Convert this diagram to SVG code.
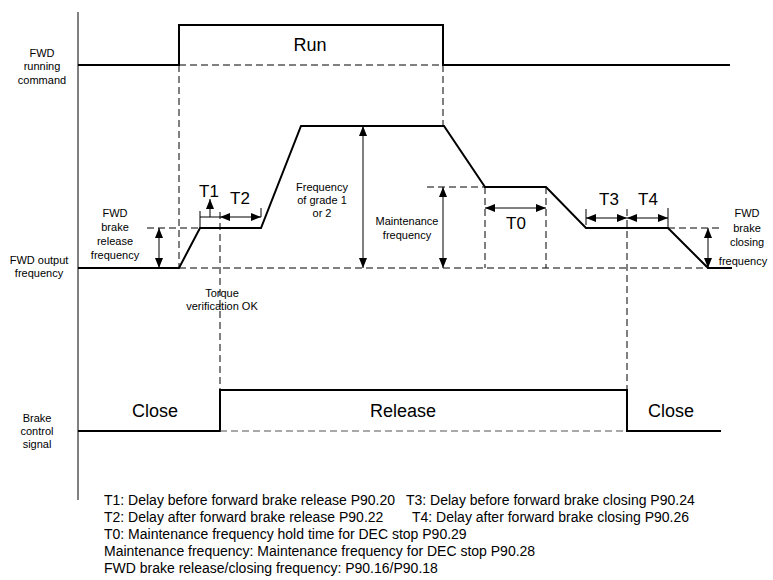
<svg xmlns="http://www.w3.org/2000/svg" width="773" height="580" viewBox="0 0 773 580">
<defs>
<marker id="ah" viewBox="0 0 10 8" refX="10" refY="4" markerWidth="10" markerHeight="8" markerUnits="userSpaceOnUse" orient="auto-start-reverse">
<path d="M0,0 L10,4 L0,8 Z" fill="#000"/>
</marker>
<style>
.sig{fill:none;stroke:#000;stroke-width:2}
.ax{fill:none;stroke:#000;stroke-width:1}
.dash{fill:none;stroke:#000;stroke-width:1;stroke-dasharray:7,4}
.gdash{fill:none;stroke:#555;stroke-width:1.2;stroke-dasharray:7,4}
.arr{fill:none;stroke:#000;stroke-width:1;marker-start:url(#ah);marker-end:url(#ah)}
.arr1{fill:none;stroke:#000;stroke-width:1;marker-end:url(#ah)}
.tick{fill:none;stroke:#000;stroke-width:1}
text{font-family:"Liberation Sans",Arial,sans-serif;fill:#000}
.s{font-size:11px;text-anchor:middle}
.m{font-size:17px;text-anchor:middle}
.l{font-size:18px;text-anchor:middle}
.n{font-size:14px}
</style>
</defs>
<rect width="773" height="580" fill="#fff"/>

<g id="axis">
<line class="ax" x1="78" y1="12" x2="78" y2="500"/>
</g>

<g id="run-signal">
<polyline class="sig" points="78,65 179,65 179,25 443,25 443,65 730,65"/>
<text class="l" x="310" y="51">Run</text>
</g>

<g id="freq-signal">
<polyline class="sig" points="78,268 179,268 200,228 261,228 301,126 444,126 485,187 546,187 586,228 668,228 708,268 732,268"/>
</g>

<g id="brake-signal">
<polyline class="sig" points="78,431 220,431 220,390 627,390 627,431 721,431"/>
<text class="l" x="155" y="417">Close</text>
<text class="l" x="403" y="417">Release</text>
<text class="l" x="671" y="417">Close</text>
</g>

<g id="connectors">
<line class="dash" x1="179" y1="65" x2="443" y2="65"/>
<line class="dash" x1="179" y1="65" x2="179" y2="268"/>
<line class="dash" x1="443" y1="65" x2="443" y2="126"/>
<line class="dash" x1="179" y1="268" x2="708" y2="268"/>
<line class="dash" x1="147" y1="228" x2="200" y2="228"/>
<line class="dash" x1="427" y1="187" x2="485" y2="187"/>
<line class="dash" x1="668" y1="228" x2="723" y2="228"/>
<line class="dash" x1="485" y1="187" x2="485" y2="268"/>
<line class="dash" x1="546" y1="187" x2="546" y2="268"/>
<line class="dash" x1="220" y1="212" x2="220" y2="390"/>
<line class="dash" x1="627" y1="209" x2="627" y2="390"/>
<line class="gdash" x1="220" y1="431" x2="627" y2="431"/>
<line class="tick" x1="200" y1="211" x2="200" y2="228"/>
<line class="tick" x1="200" y1="217" x2="220" y2="217"/>
<line class="tick" x1="261" y1="208" x2="261" y2="217"/>
<line class="tick" x1="586" y1="209" x2="586" y2="225"/>
<line class="tick" x1="668" y1="208" x2="668" y2="228"/>
<line class="arr1" x1="210" y1="217" x2="210" y2="199"/>
<line class="arr" x1="220" y1="217" x2="261" y2="217"/>
<line class="arr" x1="159" y1="228" x2="159" y2="268"/>
<line class="arr" x1="363" y1="126" x2="363" y2="268"/>
<line class="arr" x1="443" y1="187" x2="443" y2="268"/>
<line class="arr" x1="485" y1="208" x2="546" y2="208"/>
<line class="arr" x1="586" y1="218" x2="627" y2="218"/>
<line class="arr" x1="627" y1="218" x2="668" y2="218"/>
<line class="arr" x1="708" y1="228" x2="708" y2="268"/>
</g>

<g id="labels">
<text class="s" x="42"><tspan x="42" y="57">FWD</tspan><tspan x="42" y="70">running</tspan><tspan x="42" y="84">command</tspan></text>
<text class="s" x="39"><tspan x="39" y="264">FWD output</tspan><tspan x="39" y="277">frequency</tspan></text>
<text class="s" x="37"><tspan x="37" y="422">Brake</tspan><tspan x="37" y="435">control</tspan><tspan x="37" y="448">signal</tspan></text>
<text class="s" x="115"><tspan x="115" y="217">FWD</tspan><tspan x="115" y="231">brake</tspan><tspan x="115" y="245">release</tspan><tspan x="115" y="259">frequency</tspan></text>
<text class="s" x="322"><tspan x="322" y="191">Frequency</tspan><tspan x="322" y="204">of grade 1</tspan><tspan x="322" y="217">or 2</tspan></text>
<text class="s" x="407"><tspan x="407" y="225">Maintenance</tspan><tspan x="407" y="239">frequency</tspan></text>
<text class="s" x="222"><tspan x="222" y="297">Torque</tspan><tspan x="222" y="310">verification OK</tspan></text>
<text class="s" x="747"><tspan x="747" y="217">FWD</tspan><tspan x="747" y="232">brake</tspan><tspan x="747" y="246">closing</tspan><tspan x="743" y="265">frequency</tspan></text>
<text class="m" x="209" y="197">T1</text>
<text class="m" x="240" y="204">T2</text>
<text class="m" x="516" y="229">T0</text>
<text class="m" x="609" y="205">T3</text>
<text class="m" x="648" y="205">T4</text>
</g>

<g id="notes">
<text class="n" x="104" y="505">T1: Delay before forward brake release P90.20</text>
<text class="n" x="406" y="505">T3: Delay before forward brake closing P90.24</text>
<text class="n" x="104" y="522">T2: Delay after forward brake release P90.22</text>
<text class="n" x="412" y="522">T4: Delay after forward brake closing P90.26</text>
<text class="n" x="104" y="539">T0: Maintenance frequency hold time for DEC stop P90.29</text>
<text class="n" x="104" y="556">Maintenance frequency: Maintenance frequency for DEC stop P90.28</text>
<text class="n" x="104" y="573">FWD brake release/closing frequency: P90.16/P90.18</text>
</g>
</svg>
